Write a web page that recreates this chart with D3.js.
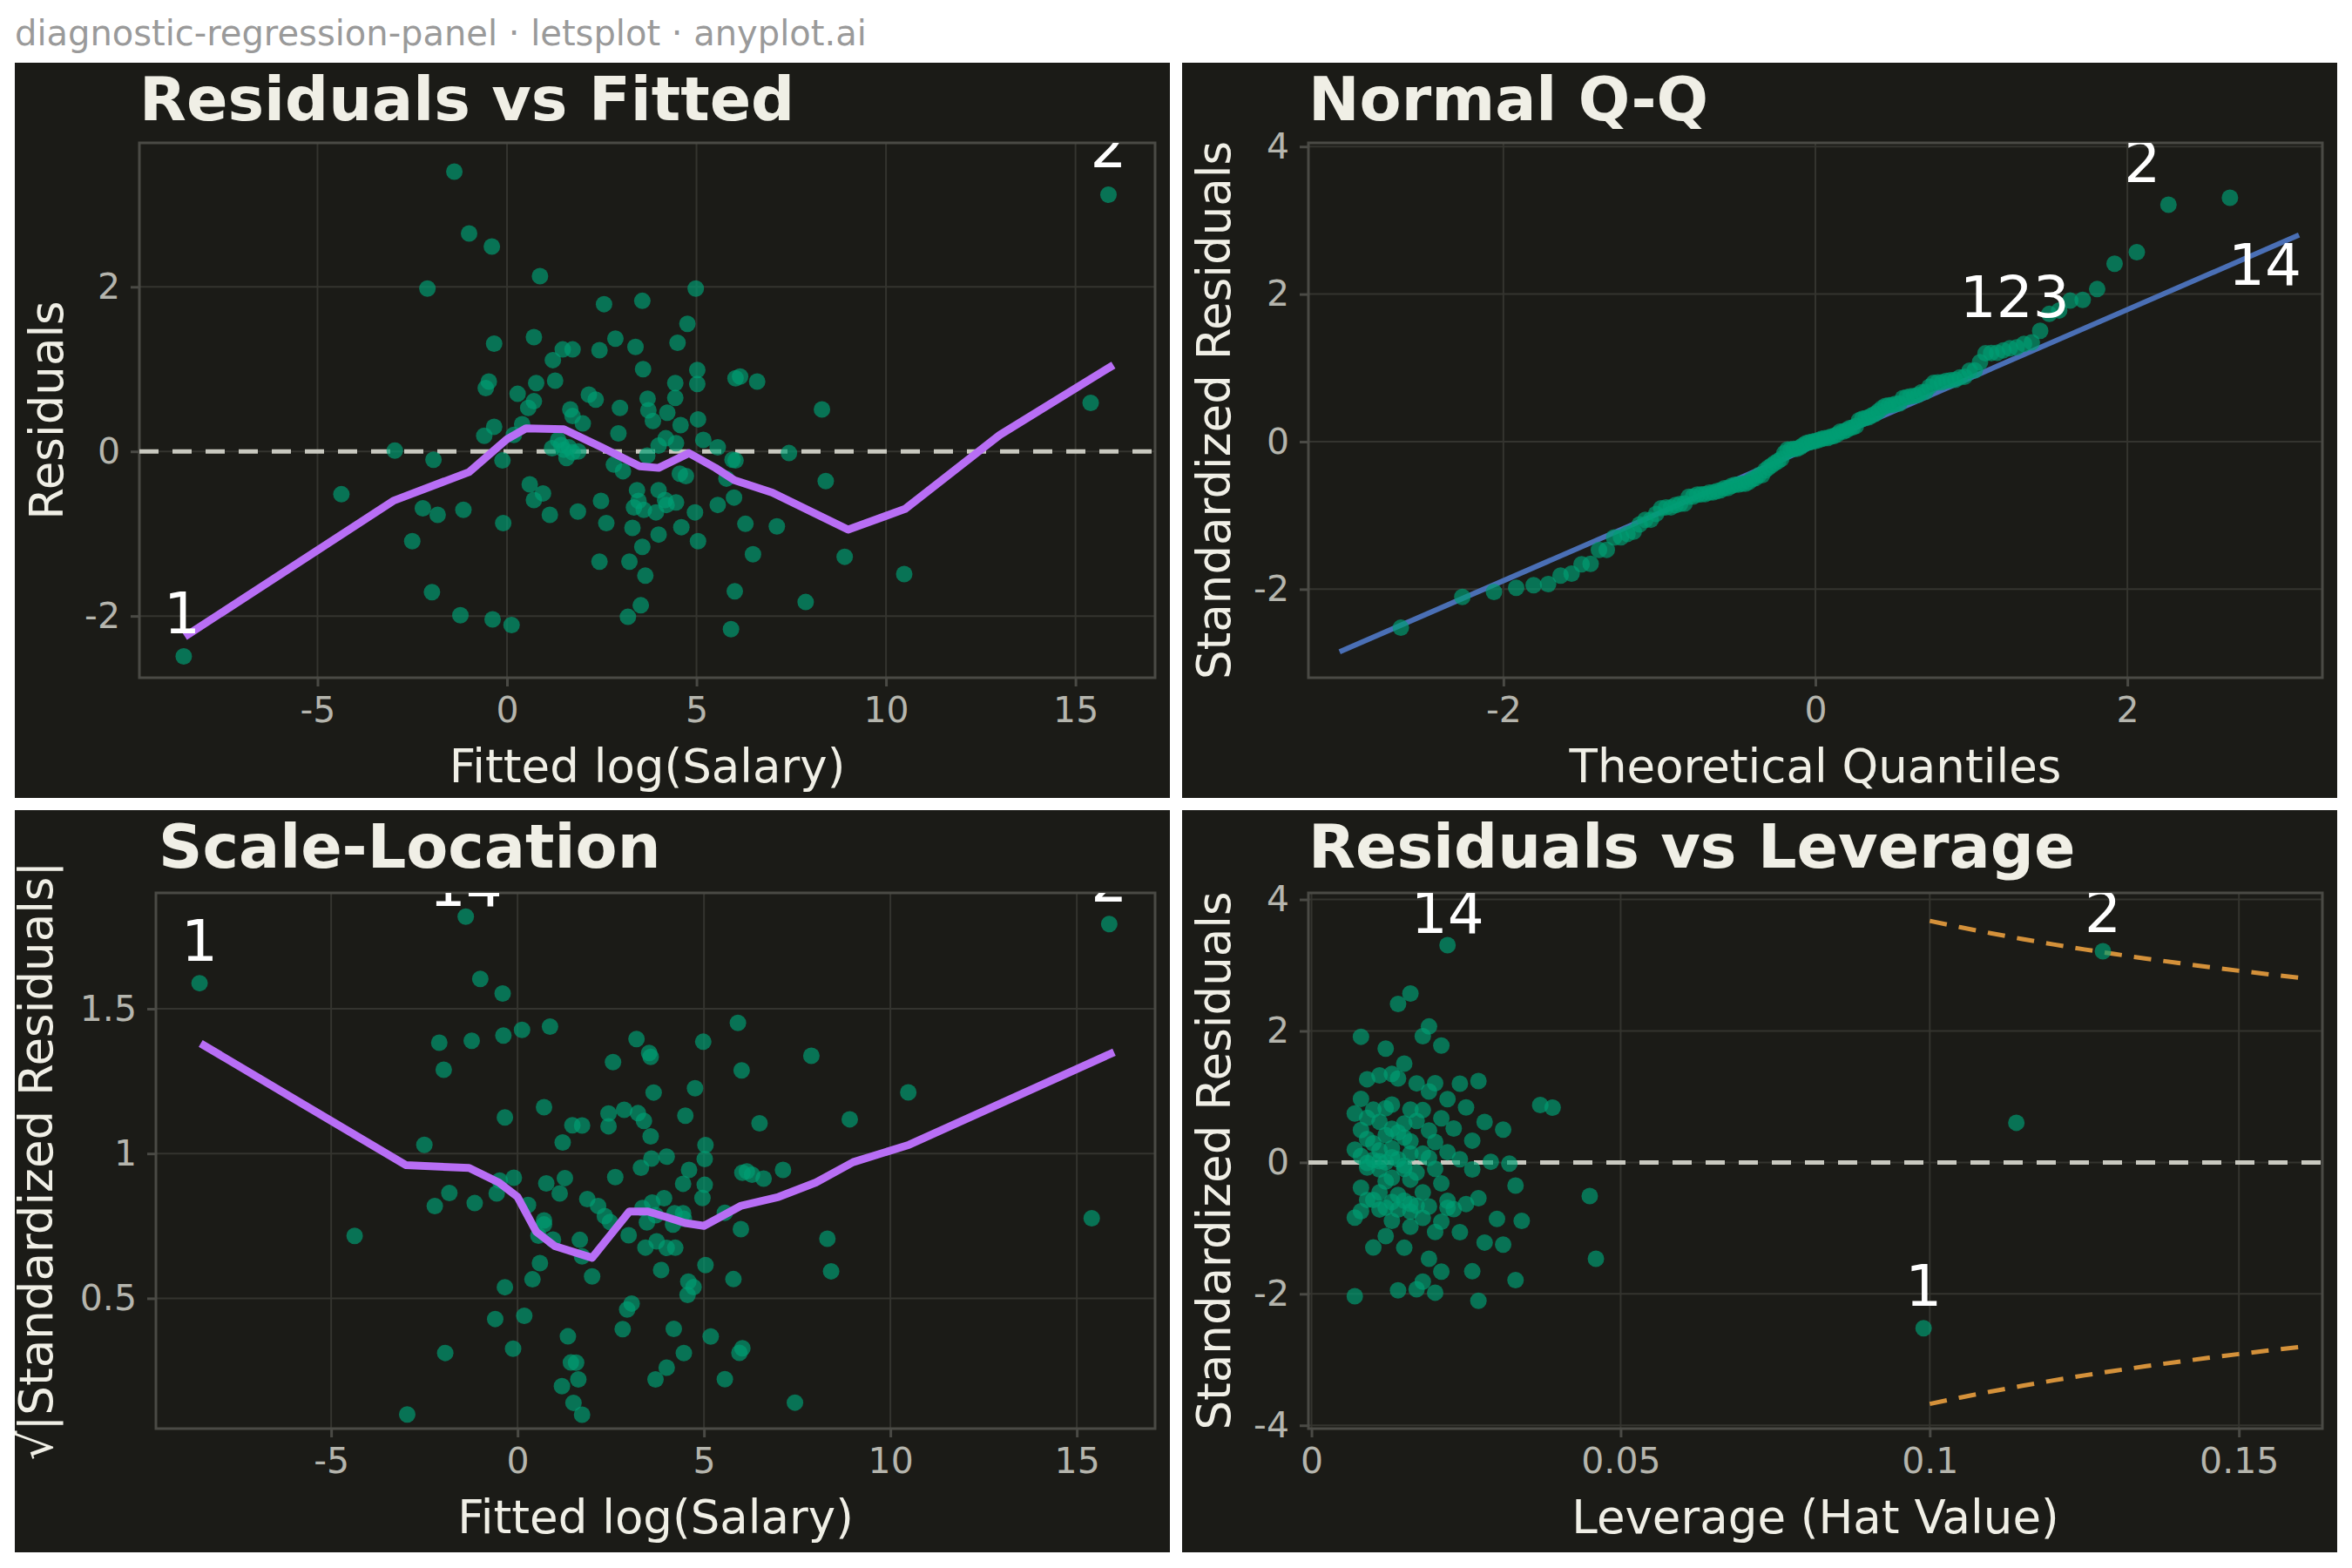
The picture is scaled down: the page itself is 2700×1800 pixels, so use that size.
<!DOCTYPE html>
<html>
<head>
<meta charset="utf-8">
<script src="https://cdn.jsdelivr.net/npm/d3@7"></script>
<style>
  body { margin: 0; background: #ffffff; }
  svg text { font-family: "DejaVu Sans", sans-serif; }
</style>
</head>
<body>
<div id="chart"></div>
<script>
// Observations (first four are the labelled ones: 1, 2, 14, 123)
const fittedVals = [-8.53, 15.87, -1.39, 4.98,
  -1.0, -0.4, 0.87, -2.1, 2.56, 3.57, 4.76, -0.34, 0.71, 1.47, 1.73, 2.44, 2.86, 3.39, 4.5, 1.21,
  3.59, 5.02, -0.48, -0.56, 0.77, 1.27, 4.44, 5.02, 6.03, 6.15, 6.6, 0.28, 0.71, 2.16, 2.34, 3.71,
  4.44, 0.56, 1.67, 2.98, 3.73, 4.23, 8.31, -0.34, 0.4, 1.73, 2.0, 3.85, 4.58, 5.04, -0.6, 0.18,
  1.35, 2.94, 4.19, 5.18, -2.96, 1.19, 1.63, 1.88, 4.0, 4.46, 5.56, 7.44, -1.94, -0.12, 1.57, 2.82,
  3.06, 5.95, 6.03, 4.56, 4.72, 5.79, -4.37, 0.6, 0.95, 3.43, 4.0, 8.41, 0.71, 2.48, 3.47, 4.17,
  4.46, 5.99, -2.22, -1.83, -1.15, 1.13, 1.87, 3.35, 3.93, 4.96, 5.56, -0.1, 2.62, 3.31, 4.6, 6.29,
  7.12, -2.5, 3.57, 4.0, 5.04, 6.49, 8.91, 10.48, 2.44, 3.23, 3.65, -1.98, 6.01, 7.88, -1.23, -0.38,
  0.12, 3.19, 3.53, 5.91, 15.4, 1.43, 1.73, 3.61, 4.21, 1.5, 3.7];
const residVals = [-2.49, 3.12, 3.40, 1.98,
  2.65, 2.49, 2.13, 1.98, 1.79, 1.83, 1.55, 1.31, 1.39, 1.24, 1.24, 1.23, 1.37, 1.27, 1.32, 1.11,
  1.0, 0.99, 0.85, 0.77, 0.83, 0.86, 0.83, 0.82, 0.89, 0.91, 0.85, 0.7, 0.61, 0.69, 0.63, 0.64,
  0.65, 0.53, 0.51, 0.53, 0.5, 0.47, 0.51, 0.3, 0.33, 0.43, 0.34, 0.37, 0.32, 0.39, 0.19, 0.2,
  0.14, 0.22, 0.16, 0.14, 0.01, 0.04, 0.05, 0.0, 0.07, 0.1, 0.05, -0.02, -0.1, -0.11, -0.08, -0.16,
  -0.24, -0.1, -0.11, -0.27, -0.3, -0.33, -0.52, -0.4, -0.51, -0.47, -0.47, -0.36, -0.59, -0.6, -0.6, -0.59,
  -0.62, -0.56, -0.69, -0.77, -0.71, -0.77, -0.73, -0.68, -0.74, -0.74, -0.65, -0.87, -0.87, -0.93, -0.92, -0.88,
  -0.91, -1.09, -1.16, -1.01, -1.09, -1.25, -1.28, -1.49, -1.34, -1.34, -1.51, -1.71, -1.7, -1.83, -1.99, -2.04,
  -2.11, -2.01, -1.87, -2.16, 0.59, 0.08, -0.01, -0.71, -0.65, 0.02, -0.05];
const leverageVals = [0.099, 0.128, 0.022, 0.018,
  0.016, 0.014, 0.019, 0.008, 0.012, 0.021, 0.015, 0.009, 0.013, 0.020, 0.017, 0.024, 0.011, 0.027, 0.014, 0.019,
  0.008, 0.022, 0.012, 0.007, 0.016, 0.025, 0.010, 0.018, 0.037, 0.013, 0.039, 0.009, 0.015, 0.021, 0.028, 0.011,
  0.017, 0.013, 0.008, 0.023, 0.019, 0.014, 0.031, 0.010, 0.016, 0.012, 0.026, 0.009, 0.020, 0.015, 0.011, 0.007,
  0.018, 0.013, 0.022, 0.016, 0.029, 0.010, 0.014, 0.012, 0.019, 0.008, 0.024, 0.032, 0.015, 0.011, 0.009, 0.017,
  0.013, 0.020, 0.026, 0.016, 0.012, 0.021, 0.045, 0.008, 0.014, 0.018, 0.011, 0.033, 0.010, 0.022, 0.015, 0.009,
  0.013, 0.027, 0.019, 0.016, 0.012, 0.008, 0.023, 0.017, 0.011, 0.014, 0.025, 0.007, 0.018, 0.021, 0.013, 0.030,
  0.034, 0.024, 0.012, 0.016, 0.020, 0.028, 0.031, 0.046, 0.010, 0.015, 0.019, 0.021, 0.026, 0.033, 0.017, 0.020,
  0.007, 0.014, 0.018, 0.027, 0.114, 0.013, 0.009, 0.022, 0.016, 0.011, 0.015];
const pointLabels = [{ i: 0, name: '1' }, { i: 1, name: '2' }, { i: 2, name: '14' }, { i: 3, name: '123' }];
const sigma = 1.04;

// Lowess curves and Q-Q reference line
const smoothRvF = [[-8.5, -2.25], [-3, -0.6], [-1, -0.25], [0, 0.15], [0.5, 0.28], [1.5, 0.27], [2.5, 0.05],
  [3.5, -0.18], [4, -0.2], [4.8, -0.02], [5.5, -0.2], [6, -0.35], [7, -0.5], [9, -0.95], [10.5, -0.7], [13, 0.2], [16, 1.05]];
const smoothSL = [[-8.5, 1.38], [-3, 0.96], [-1.3, 0.95], [-0.5, 0.9], [0, 0.85], [0.5, 0.73], [1, 0.68], [2, 0.64],
  [2.5, 0.72], [3, 0.8], [3.5, 0.8], [4, 0.78], [4.5, 0.76], [5, 0.75], [6, 0.82], [7, 0.85], [8, 0.9], [9, 0.97], [10.5, 1.03], [16, 1.35]];
const qqLine = [[-3.05, -2.85], [3.1, 2.8]];

// Acklam inverse normal
function qnorm(p) {
  const a = [-39.69683028665376, 220.9460984245205, -275.9285104469687, 138.3577518672690, -30.66479806614716, 2.506628277459239];
  const b = [-54.47609879822406, 161.5858368580409, -155.6989798598866, 66.80131188771972, -13.28068155288572];
  const c = [-0.007784894002430293, -0.3223964580411365, -2.400758277161838, -2.549732539343734, 4.374664141464968, 2.938163982698783];
  const d = [0.007784695709041462, 0.3224671290700398, 2.445134137142996, 3.754408661907416];
  const pl = 0.02425;
  let q, r;
  if (p < pl) {
    q = Math.sqrt(-2 * Math.log(p));
    return (((((c[0]*q+c[1])*q+c[2])*q+c[3])*q+c[4])*q+c[5]) / ((((d[0]*q+d[1])*q+d[2])*q+d[3])*q+1);
  } else if (p <= 1 - pl) {
    q = p - 0.5; r = q * q;
    return (((((a[0]*r+a[1])*r+a[2])*r+a[3])*r+a[4])*r+a[5])*q / (((((b[0]*r+b[1])*r+b[2])*r+b[3])*r+b[4])*r+1);
  }
  q = Math.sqrt(-2 * Math.log(1 - p));
  return -(((((c[0]*q+c[1])*q+c[2])*q+c[3])*q+c[4])*q+c[5]) / ((((d[0]*q+d[1])*q+d[2])*q+d[3])*q+1);
}

const n = fittedVals.length;
const obs = fittedVals.map((f, i) => {
  const std = residVals[i] / (sigma * Math.sqrt(1 - leverageVals[i]));
  return { i, fitted: f, resid: residVals[i], lev: leverageVals[i], std, sl: Math.sqrt(Math.abs(std)) };
});
const sorted = obs.slice().sort((a, b) => a.std - b.std);
sorted.forEach((d, k) => { d.theo = qnorm((k + 0.5) / n); });

const W = 2700, H = 1800;
const svg = d3.select('#chart').append('svg').attr('width', W).attr('height', H);
svg.append('rect').attr('width', W).attr('height', H).attr('fill', '#ffffff');
svg.append('text').attr('x', 17).attr('y', 52).attr('font-size', 40).attr('fill', '#9a9a9a')
  .text('diagnostic-regression-panel · letsplot · anyplot.ai');

const bg = '#1b1b17', pointColor = '#009e73', smoothColor = '#b86ef5';

function panel(cfg) {
  const g = svg.append('g');
  g.append('rect').attr('x', cfg.bx).attr('y', cfg.by).attr('width', cfg.bw).attr('height', cfg.bh).attr('fill', bg);
  const x = d3.scaleLinear().domain(cfg.xd).range([cfg.px0, cfg.px1]);
  const y = d3.scaleLinear().domain(cfg.yd).range([cfg.py1, cfg.py0]);
  g.selectAll('.gx').data(cfg.xt).join('line').attr('x1', d => x(d)).attr('x2', d => x(d))
    .attr('y1', cfg.py0).attr('y2', cfg.py1).attr('stroke', '#34342f').attr('stroke-width', 2);
  g.selectAll('.gy').data(cfg.yt).join('line').attr('y1', d => y(d)).attr('y2', d => y(d))
    .attr('x1', cfg.px0).attr('x2', cfg.px1).attr('stroke', '#34342f').attr('stroke-width', 2);
  g.append('rect').attr('x', cfg.px0).attr('y', cfg.py0).attr('width', cfg.px1 - cfg.px0).attr('height', cfg.py1 - cfg.py0)
    .attr('fill', 'none').attr('stroke', '#4a4a45').attr('stroke-width', 3);
  const xa = g.append('g').attr('transform', `translate(0,${cfg.py1})`)
    .call(d3.axisBottom(x).tickValues(cfg.xt).tickFormat(d => String(d)).tickSize(10).tickPadding(12));
  const ya = g.append('g').attr('transform', `translate(${cfg.px0},0)`)
    .call(d3.axisLeft(y).tickValues(cfg.yt).tickFormat(d => String(d)).tickSize(10).tickPadding(12));
  [xa, ya].forEach(a => {
    a.select('.domain').remove();
    a.selectAll('line').attr('stroke', '#4a4a45').attr('stroke-width', 3);
    a.selectAll('text').attr('font-size', 41).attr('fill', '#b5b5ad').attr('font-family', '"DejaVu Sans", sans-serif');
  });
  g.append('text').attr('x', cfg.tx).attr('y', cfg.by + 66).attr('font-size', 70).attr('font-weight', 'bold')
    .attr('fill', '#f0efe6').text(cfg.title);
  g.append('text').attr('x', (cfg.px0 + cfg.px1) / 2).attr('y', cfg.py1 + 120).attr('text-anchor', 'middle')
    .attr('font-size', 53).attr('fill', '#f0efe6').text(cfg.xlab);
  g.append('text').attr('transform', `translate(${cfg.yx},${(cfg.py0 + cfg.py1) / 2}) rotate(-90)`)
    .attr('text-anchor', 'middle').attr('font-size', 53).attr('fill', '#f0efe6').text(cfg.ylab);
  const clipId = 'clip' + cfg.px0 + '_' + cfg.py0;
  g.append('clipPath').attr('id', clipId).append('rect').attr('x', cfg.px0).attr('y', cfg.py0)
    .attr('width', cfg.px1 - cfg.px0).attr('height', cfg.py1 - cfg.py0);
  const plot = g.append('g').attr('clip-path', `url(#${clipId})`);
  return { x, y, plot, g };
}

const rowTop = { by: 72, bh: 844, py0: 164, py1: 778 };
const rowBot = { by: 930, bh: 852, py0: 1025, py1: 1640 };
const colLeft = { bx: 17, bw: 1326 }, colRight = { bx: 1357, bw: 1326 };

function drawPoints(p, data, xf, yf) {
  p.plot.selectAll('circle').data(data).join('circle')
    .attr('cx', d => p.x(xf(d))).attr('cy', d => p.y(yf(d))).attr('r', 9.5)
    .attr('fill', pointColor).attr('fill-opacity', 0.68);
}
function drawLabels(p, offs, xf, yf) {
  pointLabels.forEach(l => {
    if (!offs[l.name]) return;
    const d = obs[l.i];
    p.plot.append('text').attr('x', p.x(xf(d)) + offs[l.name][0]).attr('y', p.y(yf(d)) + offs[l.name][1])
      .attr('text-anchor', 'middle').attr('font-size', 66).attr('fill', '#ffffff').text(l.name);
  });
}
const line = (p, pts, color, w) => p.plot.append('path').datum(pts)
  .attr('d', d3.line().x(d => p.x(d[0])).y(d => p.y(d[1])))
  .attr('fill', 'none').attr('stroke', color).attr('stroke-width', w).attr('stroke-linejoin', 'round');

// Residuals vs Fitted
const p1 = panel({ ...colLeft, ...rowTop, px0: 160, px1: 1326, xd: [-9.7, 17.1], yd: [-2.75, 3.75],
  xt: [-5, 0, 5, 10, 15], yt: [-2, 0, 2], title: 'Residuals vs Fitted', tx: 160, yx: 72,
  xlab: 'Fitted log(Salary)', ylab: 'Residuals' });
p1.plot.append('line').attr('x1', 160).attr('x2', 1326).attr('y1', p1.y(0)).attr('y2', p1.y(0))
  .attr('stroke', '#c9c9c0').attr('stroke-width', 5).attr('stroke-dasharray', '22,16');
drawPoints(p1, obs, d => d.fitted, d => d.resid);
line(p1, smoothRvF, smoothColor, 9);
drawLabels(p1, { '1': [-2, -26], '2': [0, -32] }, d => d.fitted, d => d.resid);

// Normal Q-Q
const p2 = panel({ ...colRight, ...rowTop, px0: 1502, px1: 2666, xd: [-3.25, 3.25], yd: [-3.2, 4.05],
  xt: [-2, 0, 2], yt: [-2, 0, 2, 4], title: 'Normal Q-Q', tx: 1502, yx: 1412,
  xlab: 'Theoretical Quantiles', ylab: 'Standardized Residuals' });
line(p2, qqLine, '#4a6fb5', 6);
drawPoints(p2, sorted, d => d.theo, d => d.std);
drawLabels(p2, { '2': [-30, -26], '14': [40, 100], '123': [-78, 20] }, d => d.theo, d => d.std);

// Scale-Location
const p3 = panel({ ...colLeft, ...rowBot, px0: 179, px1: 1326, xd: [-9.7, 17.1], yd: [0.05, 1.9],
  xt: [-5, 0, 5, 10, 15], yt: [0.5, 1, 1.5], title: 'Scale-Location', tx: 182, yx: 60,
  xlab: 'Fitted log(Salary)', ylab: '√|Standardized Residuals|' });
drawPoints(p3, obs, d => d.fitted, d => d.sl);
line(p3, smoothSL, smoothColor, 9);
drawLabels(p3, { '1': [0, -26], '2': [0, -26], '14': [0, -12] }, d => d.fitted, d => d.sl);

// Residuals vs Leverage
const p4 = panel({ ...colRight, ...rowBot, px0: 1502, px1: 2666, xd: [-0.0005, 0.1635], yd: [-4.05, 4.1],
  xt: [0, 0.05, 0.1, 0.15], yt: [-4, -2, 0, 2, 4], title: 'Residuals vs Leverage', tx: 1502, yx: 1412,
  xlab: 'Leverage (Hat Value)', ylab: 'Standardized Residuals' });
p4.plot.append('line').attr('x1', 1502).attr('x2', 2666).attr('y1', p4.y(0)).attr('y2', p4.y(0))
  .attr('stroke', '#c9c9c0').attr('stroke-width', 5).attr('stroke-dasharray', '22,16');
const cookH = d3.range(0.1, 0.1605, 0.005);
[1, -1].forEach(s => line(p4, cookH.map(h => [h, s * Math.sqrt(0.5 * 3 * (1 - h) / h)]), '#d4913a', 5)
  .attr('stroke-dasharray', '20,14'));
drawPoints(p4, obs, d => d.lev, d => d.std);
drawLabels(p4, { '1': [0, -26], '2': [0, -22], '14': [0, -14] }, d => d.lev, d => d.std);
</script>
</body>
</html>
